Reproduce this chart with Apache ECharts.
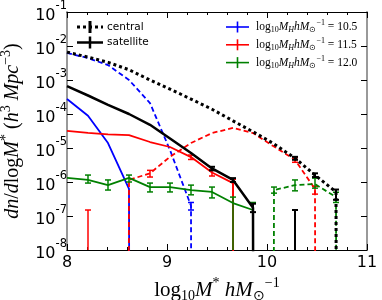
<!DOCTYPE html>
<html><head><meta charset="utf-8">
<script src="https://cdn.jsdelivr.net/npm/echarts@6/dist/echarts.min.js"></script>
<style>html,body{margin:0;padding:0;background:#fff}#c{width:382px;height:300px}</style>
</head><body><div id="c"></div>
<script>
// ---- data ----
const bins = [8.0, 8.21, 8.41, 8.62, 8.83, 9.03, 9.24, 9.45, 9.66, 9.86, 10.07, 10.28, 10.48, 10.69, 10.9];
const xTicks = [8, 9, 10, 11];
const yTickExponents = [-8, -7, -6, -5, -4, -3, -2, -1];
// totals (black)
const centralAll   = [6.6e-3, 4.7e-3, 3.3e-3, 2.0e-3, 1.0e-3, 5.4e-4, 2.75e-4, 1.38e-4, 6.3e-5, 3.0e-5, 1.32e-5, 5.0e-6, 1.6e-6, 5.1e-7, 0];
const satelliteAll = [6.6e-4, 3.5e-4, 1.86e-4, 1.0e-4, 4.8e-5, 1.9e-5, 7.1e-6, 2.5e-6, 1.15e-6, 1.75e-7, 0, 0, 0, 0, 0];
// log10 M_H = 10.5 (blue)
const cen105 = [6.3e-3, 4.4e-3, 2.75e-3, 1.0e-3, 2.1e-4, 8.7e-6, 2.0e-7, 0, 0, 0, 0, 0, 0, 0, 0];
const sat105 = [2.75e-4, 8.9e-5, 1.4e-5, 6.3e-7, 0, 0, 0, 0, 0, 0, 0, 0, 0, 0, 0];
// log10 M_H = 11.5 (red)
const cen115 = [0, 0, 0, 1.15e-6, 1.8e-6, 5.5e-6, 1.4e-5, 2.75e-5, 3.9e-5, 2.75e-5, 1.1e-5, 4.5e-6, 6.2e-7, 0, 0];
const sat115 = [3.2e-5, 2.8e-5, 2.5e-5, 2.4e-5, 1.5e-5, 1.07e-5, 5.4e-6, 1.9e-6, 9.3e-7, 0, 0, 0, 0, 0, 0];
// log10 M_H = 12.0 (green)
const cen120 = [0, 0, 0, 0, 0, 0, 0, 0, 0, 0, 5.8e-7, 8.1e-7, 8.7e-7, 3.6e-7, 0];
const sat120 = [1.32e-6, 1.15e-6, 8.1e-7, 1.32e-6, 7.1e-7, 7.1e-7, 5.8e-7, 5.1e-7, 2.4e-7, 1.5e-7, 0, 0, 0, 0, 0];
// error bars: [x, upper, lower]  (lower 0 = reaches below the axis)
const errSat120 = [[8.21,1.6e-6,9.3e-7],[8.41,1.15e-6,5.8e-7],[8.62,1.6e-6,1.0e-6],[8.83,9.3e-7,5.1e-7],[9.03,9.3e-7,5.1e-7],[9.24,8.1e-7,4.2e-7],[9.45,7.1e-7,3.4e-7],[9.66,3.6e-7,0],[9.86,2.5e-7,0]];
const errCen120 = [[10.07,7.1e-7,4.7e-7],[10.28,1.15e-6,5.5e-7],[10.48,1.3e-6,6.6e-7],[10.69,5.0e-7,2.5e-7]];
const errSat115 = [[9.24,6.2e-6,4.6e-6],[9.45,2.3e-6,1.5e-6],[9.66,1.2e-6,0]];
const errCen115 = [[8.21,1.5e-7,0],[8.83,2.2e-6,1.4e-6],[10.28,5.2e-6,3.8e-6],[10.48,7.5e-7,4.4e-7]];
const errCen105 = [[9.24,2.5e-7,1.5e-7]];
const errSatAll = [[9.45,2.8e-6,2.2e-6],[9.66,1.3e-6,1.0e-6],[9.86,2.3e-7,1.3e-7],[10.28,1.5e-7,0]];
const errCenAll = [[10.28,5.5e-6,4.5e-6],[10.48,1.8e-6,1.4e-6],[10.69,6.0e-7,3.0e-7]];
const legendLeft = ['central', 'satellite'];
const legendRight = ['10.5', '11.5', '12.0'];

// ---- build ----
const YMIN = 1e-8, YMAX = 1e-1;
const BLUE = '#0000ff', RED = '#ff0000', GREEN = '#008000', BLACK = '#000000';
function pairs(vals) { return bins.map((x, i) => [x, vals[i] > 0 ? vals[i] : 1e-300]); }
function lineS(vals, color, type, width, z) {
  return { type: 'line', data: pairs(vals), showSymbol: false, symbol: 'none', clip: true, z: z,
    lineStyle: { color: color, width: width, type: type, cap: 'butt' }, animation: false, silent: true };
}
function errS(pts, color, width, z) {
  return { type: 'custom', data: pts, z: z, animation: false, silent: true, clip: true,
    encode: { x: 0, y: 1 },
    renderItem: function (params, api) {
      const x = api.value(0), hi = api.value(1), lo = api.value(2);
      const top = api.coord([x, Math.max(hi, YMIN)]);
      const bot = api.coord([x, Math.max(lo, YMIN)]);
      const cw = 3;
      const st = { stroke: color, lineWidth: width };
      const ch = [
        { type: 'line', shape: { x1: top[0], y1: top[1], x2: bot[0], y2: bot[1] }, style: st },
        { type: 'line', shape: { x1: top[0] - cw, y1: top[1], x2: top[0] + cw, y2: top[1] }, style: st }
      ];
      if (lo > 0) ch.push({ type: 'line', shape: { x1: bot[0] - cw, y1: bot[1], x2: bot[0] + cw, y2: bot[1] }, style: st });
      return { type: 'group', children: ch };
    } };
}
const serif = 'Liberation Serif';
const mathRich = function (fs) {
  return {
    r: { fontFamily: serif, fontSize: fs, color: '#000', verticalAlign: 'middle' },
    i: { fontFamily: serif, fontSize: fs, fontStyle: 'italic', color: '#000', verticalAlign: 'middle' },
    sb: { fontFamily: serif, fontSize: Math.round(fs * 0.68), color: '#000', verticalAlign: 'middle', padding: [Math.round(fs * 0.5), 0, 0, 0] },
    sbi: { fontFamily: serif, fontSize: Math.round(fs * 0.68), fontStyle: 'italic', color: '#000', verticalAlign: 'middle', padding: [Math.round(fs * 0.5), 0, 0, 0] },
    sp: { fontFamily: serif, fontSize: Math.round(fs * 0.68), color: '#000', verticalAlign: 'middle', padding: [0, 0, Math.round(fs * 0.7), 0] }
  };
};

const series = [
  lineS(cen105, BLUE, [5, 3], 1.8, 2), lineS(sat105, BLUE, 'solid', 1.8, 2),
  lineS(cen115, RED, [5, 3], 1.8, 3), lineS(sat115, RED, 'solid', 1.8, 3),
  lineS(cen120, GREEN, [5, 3], 1.8, 4), lineS(sat120, GREEN, 'solid', 1.8, 4),
  errS(errCen105, BLUE, 1.5, 2),
  errS(errCen115, RED, 1.5, 3), errS(errSat115, RED, 1.5, 3),
  errS(errCen120, GREEN, 1.5, 4), errS(errSat120, GREEN, 1.5, 4),
  lineS(satelliteAll, BLACK, 'solid', 2.5, 5), lineS(centralAll, BLACK, [3, 3], 3, 6),
  errS(errSatAll, BLACK, 2, 5), errS(errCenAll, BLACK, 2, 6)
];

// legend graphics
const graphic = [];
legendLeft.forEach((t, k) => {
  const y = 27 + k * 15.5;
  graphic.push({ type: 'line', shape: { x1: 77, y1: y, x2: 103, y2: y }, style: { stroke: '#000', lineWidth: k === 0 ? 3 : 2.5, lineDash: k === 0 ? [3, 3] : null } });
  graphic.push({ type: 'line', shape: { x1: 90, y1: y - 6, x2: 90, y2: y + 6 }, style: { stroke: '#000', lineWidth: k === 0 ? 3 : 2.5 } });
  graphic.push({ type: 'text', x: 107, y: y, style: { text: t, fontFamily: 'DejaVu Sans', fontSize: 10.5, fill: '#000', verticalAlign: 'middle' } });
});
const legColors = [BLUE, RED, GREEN];
legendRight.forEach((t, k) => {
  const y = 27 + k * 17.8;
  graphic.push({ type: 'line', shape: { x1: 226, y1: y, x2: 249, y2: y }, style: { stroke: legColors[k], lineWidth: 1.6 } });
  graphic.push({ type: 'line', shape: { x1: 237.5, y1: y - 5.5, x2: 237.5, y2: y + 5.5 }, style: { stroke: legColors[k], lineWidth: 1.6 } });
  graphic.push({ type: 'text', x: 256, y: y, style: {
    text: '{r|log}{sb|10}{i|M}{sbi|H}{i|hM}{sb|⊙}{sp|−1}{r| = ' + t + '}',
    rich: mathRich(11.5), verticalAlign: 'middle' } });
});

const axisCommon = {
  axisLine: { show: true, onZero: false, lineStyle: { color: '#000', width: 1 } },
  splitLine: { show: false }
};
const option = {
  animation: false,
  backgroundColor: '#fff',
  grid: { left: 67, right: 15, top: 12, bottom: 50, containLabel: false, outerBoundsMode: 'none' },
  xAxis: [
    Object.assign({}, axisCommon, {
      type: 'value', min: 8, max: 11, interval: 1, position: 'bottom',
      axisTick: { inside: true, length: 6, lineStyle: { color: '#000' } },
      minorTick: { show: true, splitNumber: 5, length: 3, lineStyle: { color: '#000' } },
      axisLabel: { margin: 5, fontFamily: 'DejaVu Sans', fontSize: 16, color: '#000',
        formatter: v => (xTicks.indexOf(v) >= 0 ? String(v) : '') },
      name: '{r|log}{sb|10}{i|M}{sp|*}{i| hM}{sb|⊙}{sp|−1}',
      nameLocation: 'middle', nameGap: 18,
      nameTextStyle: { rich: mathRich(21) }
    }),
    Object.assign({}, axisCommon, {
      type: 'value', min: 8, max: 11, interval: 1, position: 'top',
      axisTick: { inside: true, length: 6, lineStyle: { color: '#000' } },
      minorTick: { show: true, splitNumber: 5, length: 3, lineStyle: { color: '#000' } },
      axisLabel: { show: false }
    })
  ],
  yAxis: [
    Object.assign({}, axisCommon, {
      type: 'log', logBase: 10, min: YMIN, max: YMAX, position: 'left', splitNumber: 7,
      axisLine: { show: true, lineStyle: { color: '#999', width: 2 } },
      axisTick: { inside: true, length: 6, lineStyle: { color: '#000' } },
      axisLabel: { margin: 0, formatter: v => {
          const e = Math.round(Math.log10(v));
          return yTickExponents.indexOf(e) >= 0 ? '{b|10}{s|' + e + '}' : '';
        },
        rich: {
          b: { fontFamily: 'DejaVu Sans', fontSize: 16, color: '#000', verticalAlign: 'middle', padding: [7, 0, 0, 0] },
          s: { fontFamily: 'DejaVu Sans', fontSize: 11.5, color: '#000', verticalAlign: 'middle', padding: [0, 0, 12, 0] }
        } },
      name: '{i|dn}{r|/}{i|d}{r|log}{i|M}{sp|*}{r| (}{i|h}{sp|3}{i| Mpc}{sp|−3}{r|)}',
      nameLocation: 'middle', nameRotate: 90, nameGap: 40,
      nameTextStyle: { rich: mathRich(20) }
    }),
    Object.assign({}, axisCommon, {
      type: 'log', logBase: 10, min: YMIN, max: YMAX, position: 'right', splitNumber: 7,
      axisLine: { show: true, lineStyle: { color: '#999', width: 2 } },
      axisTick: { inside: true, length: 6, lineStyle: { color: '#000' } },
      axisLabel: { show: false }
    })
  ],
  series: series,
  graphic: graphic
};
const chart = echarts.init(document.getElementById('c'), null, { renderer: 'canvas' });
chart.setOption(option);
</script>
</body></html>
